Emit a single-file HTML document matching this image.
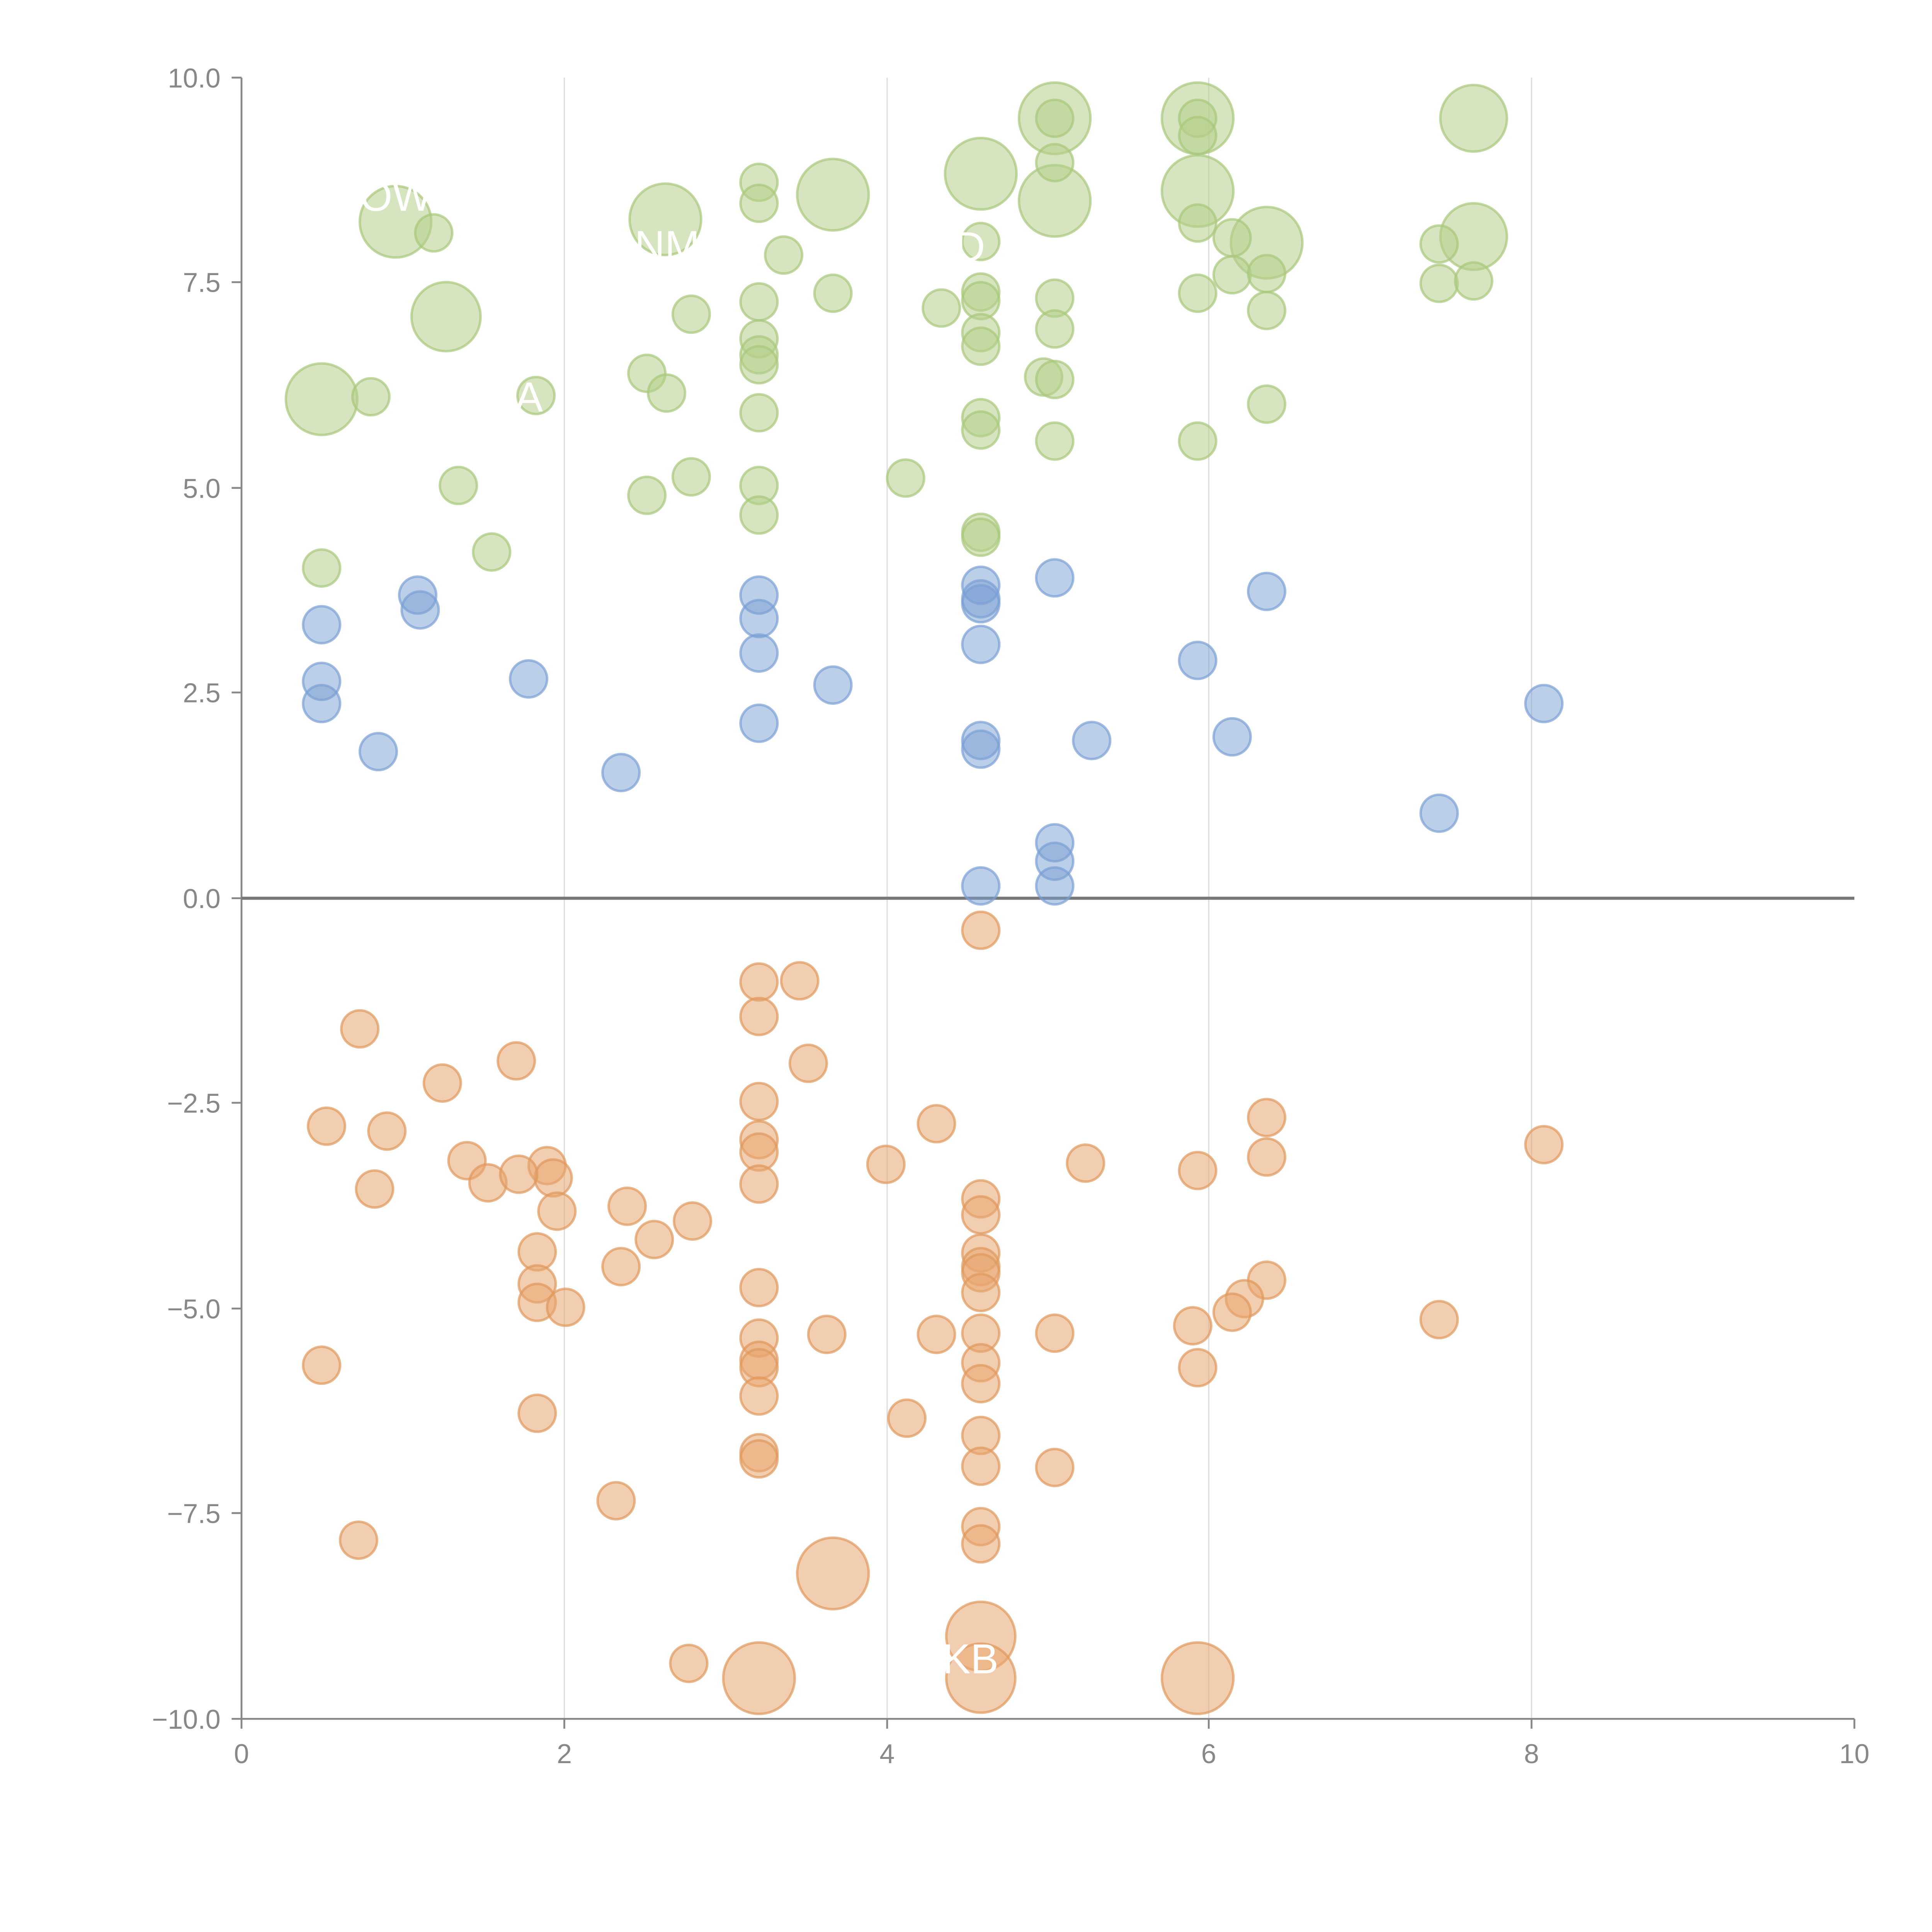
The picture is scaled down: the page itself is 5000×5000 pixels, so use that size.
<!DOCTYPE html>
<html><head><meta charset="utf-8"><style>html,body{margin:0;padding:0;background:#fff}svg{display:block}</style></head>
<body>
<svg width="5000" height="5000" viewBox="0 0 1568 1568" xmlns="http://www.w3.org/2000/svg" font-family="Liberation Sans, sans-serif">
<rect width="1568" height="1568" fill="#fff"/>
<g stroke="#dddddd" stroke-width="1">
<line x1="458" y1="63" x2="458" y2="1395"/><line x1="720" y1="63" x2="720" y2="1395"/><line x1="981" y1="63" x2="981" y2="1395"/><line x1="1243" y1="63" x2="1243" y2="1395"/>
</g>
<g stroke="#888" stroke-width="1.5" fill="none">
<line x1="196" y1="63" x2="196" y2="1395"/><line x1="196" y1="1395" x2="1505" y2="1395"/>
<line x1="188" y1="63" x2="196" y2="63"/><line x1="188" y1="229" x2="196" y2="229"/><line x1="188" y1="396" x2="196" y2="396"/><line x1="188" y1="562" x2="196" y2="562"/><line x1="188" y1="729" x2="196" y2="729"/><line x1="188" y1="895" x2="196" y2="895"/><line x1="188" y1="1062" x2="196" y2="1062"/><line x1="188" y1="1228" x2="196" y2="1228"/><line x1="188" y1="1395" x2="196" y2="1395"/>
<line x1="196" y1="1395" x2="196" y2="1403"/><line x1="458" y1="1395" x2="458" y2="1403"/><line x1="720" y1="1395" x2="720" y2="1403"/><line x1="981" y1="1395" x2="981" y2="1403"/><line x1="1243" y1="1395" x2="1243" y2="1403"/><line x1="1505" y1="1395" x2="1505" y2="1403"/>
</g>
<line x1="196" y1="729" x2="1505" y2="729" stroke="#777" stroke-width="2.5"/>
<g fill="#888" font-size="22" text-anchor="end">
<text x="179" y="71">10.0</text><text x="179" y="237">7.5</text><text x="179" y="404">5.0</text><text x="179" y="570">2.5</text><text x="179" y="737">0.0</text><text x="179" y="903">−2.5</text><text x="179" y="1070">−5.0</text><text x="179" y="1236">−7.5</text><text x="179" y="1403">−10.0</text>
</g>
<g fill="#888" font-size="22" text-anchor="middle">
<text x="196" y="1431">0</text><text x="458" y="1431">2</text><text x="720" y="1431">4</text><text x="981" y="1431">6</text><text x="1243" y="1431">8</text><text x="1505" y="1431">10</text>
</g>
<g fill="#b5d08a" fill-opacity="0.55" stroke="#a8c87a" stroke-opacity="0.7" stroke-width="2">
<circle cx="321" cy="180" r="29"/><circle cx="362" cy="257" r="28"/><circle cx="261" cy="324" r="29"/><circle cx="540" cy="178" r="29"/><circle cx="676" cy="158" r="29"/><circle cx="796" cy="141" r="29"/><circle cx="856" cy="96" r="29"/><circle cx="856" cy="163" r="29"/><circle cx="972" cy="96" r="29"/><circle cx="972" cy="155" r="29"/><circle cx="1028" cy="197" r="29"/><circle cx="1196" cy="96" r="27"/><circle cx="1196" cy="192" r="27"/>
<circle cx="352" cy="189" r="15"/><circle cx="301" cy="322" r="15"/><circle cx="372" cy="394" r="15"/><circle cx="399" cy="448" r="15"/><circle cx="261" cy="461" r="15"/><circle cx="525" cy="303" r="15"/><circle cx="541" cy="319" r="15"/><circle cx="561" cy="255" r="15"/><circle cx="561" cy="387" r="15"/><circle cx="525" cy="402" r="15"/><circle cx="435" cy="321" r="15"/><circle cx="616" cy="148" r="15"/><circle cx="616" cy="165" r="15"/><circle cx="636" cy="207" r="15"/><circle cx="616" cy="245" r="15"/><circle cx="616" cy="275" r="15"/><circle cx="616" cy="288" r="15"/><circle cx="616" cy="296" r="15"/><circle cx="616" cy="335" r="15"/><circle cx="616" cy="394" r="15"/><circle cx="616" cy="418" r="15"/><circle cx="676" cy="238" r="15"/><circle cx="735" cy="388" r="15"/><circle cx="764" cy="250" r="15"/><circle cx="796" cy="196" r="15"/><circle cx="796" cy="237" r="15"/><circle cx="796" cy="244" r="15"/><circle cx="796" cy="270" r="15"/><circle cx="796" cy="281" r="15"/><circle cx="796" cy="339" r="15"/><circle cx="796" cy="349" r="15"/><circle cx="796" cy="432" r="15"/><circle cx="796" cy="436" r="15"/><circle cx="856" cy="96" r="15"/><circle cx="856" cy="132" r="15"/><circle cx="856" cy="242" r="15"/><circle cx="856" cy="267" r="15"/><circle cx="847" cy="306" r="15"/><circle cx="856" cy="308" r="15"/><circle cx="856" cy="358" r="15"/><circle cx="972" cy="96" r="15"/><circle cx="972" cy="110" r="15"/><circle cx="972" cy="181" r="15"/><circle cx="972" cy="238" r="15"/><circle cx="972" cy="358" r="15"/><circle cx="1000" cy="193" r="15"/><circle cx="1000" cy="223" r="15"/><circle cx="1028" cy="222" r="15"/><circle cx="1028" cy="252" r="15"/><circle cx="1028" cy="328" r="15"/><circle cx="1168" cy="198" r="15"/><circle cx="1168" cy="230" r="15"/><circle cx="1196" cy="228" r="15"/>
</g>
<g fill="#7a9fd4" fill-opacity="0.5" stroke="#7a9fd4" stroke-opacity="0.7" stroke-width="2">
<circle cx="339" cy="483" r="15"/><circle cx="341" cy="495" r="15"/><circle cx="261" cy="507" r="15"/><circle cx="261" cy="553" r="15"/><circle cx="261" cy="571" r="15"/><circle cx="307" cy="610" r="15"/><circle cx="429" cy="551" r="15"/><circle cx="504" cy="627" r="15"/><circle cx="616" cy="483" r="15"/><circle cx="616" cy="502" r="15"/><circle cx="616" cy="530" r="15"/><circle cx="616" cy="587" r="15"/><circle cx="676" cy="556" r="15"/><circle cx="796" cy="475" r="15"/><circle cx="796" cy="486" r="15"/><circle cx="796" cy="490" r="15"/><circle cx="796" cy="523" r="15"/><circle cx="796" cy="601" r="15"/><circle cx="796" cy="608" r="15"/><circle cx="796" cy="719" r="15"/><circle cx="856" cy="469" r="15"/><circle cx="886" cy="601" r="15"/><circle cx="856" cy="684" r="15"/><circle cx="856" cy="699" r="15"/><circle cx="856" cy="719" r="15"/><circle cx="972" cy="536" r="15"/><circle cx="1000" cy="598" r="15"/><circle cx="1028" cy="480" r="15"/><circle cx="1168" cy="660" r="15"/><circle cx="1253" cy="571" r="15"/>
</g>
<g fill="#e8a670" fill-opacity="0.55" stroke="#e0995c" stroke-opacity="0.7" stroke-width="2">
<circle cx="796" cy="755" r="15"/><circle cx="616" cy="797" r="15"/><circle cx="649" cy="796" r="15"/><circle cx="616" cy="825" r="15"/><circle cx="292" cy="835" r="15"/><circle cx="419" cy="861" r="15"/><circle cx="656" cy="863" r="15"/><circle cx="359" cy="879" r="15"/><circle cx="616" cy="894" r="15"/><circle cx="265" cy="914" r="15"/><circle cx="314" cy="918" r="15"/><circle cx="760" cy="912" r="15"/><circle cx="1028" cy="907" r="15"/><circle cx="616" cy="925" r="15"/><circle cx="616" cy="935" r="15"/><circle cx="379" cy="942" r="15"/><circle cx="444" cy="946" r="15"/><circle cx="449" cy="956" r="15"/><circle cx="396" cy="960" r="15"/><circle cx="421" cy="953" r="15"/><circle cx="304" cy="965" r="15"/><circle cx="616" cy="961" r="15"/><circle cx="719" cy="945" r="15"/><circle cx="881" cy="944" r="15"/><circle cx="972" cy="950" r="15"/><circle cx="1028" cy="939" r="15"/><circle cx="1253" cy="929" r="15"/><circle cx="452" cy="983" r="15"/><circle cx="509" cy="979" r="15"/><circle cx="562" cy="991" r="15"/><circle cx="531" cy="1006" r="15"/><circle cx="436" cy="1016" r="15"/><circle cx="504" cy="1028" r="15"/><circle cx="796" cy="973" r="15"/><circle cx="796" cy="986" r="15"/><circle cx="796" cy="1017" r="15"/><circle cx="796" cy="1028" r="15"/><circle cx="796" cy="1033" r="15"/><circle cx="796" cy="1049" r="15"/><circle cx="436" cy="1042" r="15"/><circle cx="616" cy="1045" r="15"/><circle cx="436" cy="1057" r="15"/><circle cx="459" cy="1061" r="15"/><circle cx="1028" cy="1039" r="15"/><circle cx="1010" cy="1054" r="15"/><circle cx="1000" cy="1065" r="15"/><circle cx="968" cy="1076" r="15"/><circle cx="1168" cy="1071" r="15"/><circle cx="261" cy="1108" r="15"/><circle cx="616" cy="1086" r="15"/><circle cx="671" cy="1083" r="15"/><circle cx="760" cy="1083" r="15"/><circle cx="796" cy="1082" r="15"/><circle cx="856" cy="1082" r="15"/><circle cx="616" cy="1104" r="15"/><circle cx="616" cy="1110" r="15"/><circle cx="796" cy="1106" r="15"/><circle cx="972" cy="1110" r="15"/><circle cx="796" cy="1123" r="15"/><circle cx="616" cy="1133" r="15"/><circle cx="436" cy="1147" r="15"/><circle cx="736" cy="1151" r="15"/><circle cx="796" cy="1165" r="15"/><circle cx="616" cy="1179" r="15"/><circle cx="616" cy="1184" r="15"/><circle cx="796" cy="1190" r="15"/><circle cx="856" cy="1191" r="15"/><circle cx="500" cy="1218" r="15"/><circle cx="291" cy="1250" r="15"/><circle cx="796" cy="1239" r="15"/><circle cx="796" cy="1253" r="15"/><circle cx="559" cy="1350" r="15"/>
<circle cx="676" cy="1277" r="29"/><circle cx="796" cy="1328" r="28"/><circle cx="796" cy="1362" r="28"/><circle cx="616" cy="1362" r="29"/><circle cx="972" cy="1362" r="29"/>
</g>
<g fill="#fff" font-size="34">
<text x="292" y="171">OW</text><text x="515" y="211">NM</text><text x="418" y="334">A</text><text x="765" y="1358">KB</text><text x="775" y="212">D</text>
</g>
</svg>
</body></html>
